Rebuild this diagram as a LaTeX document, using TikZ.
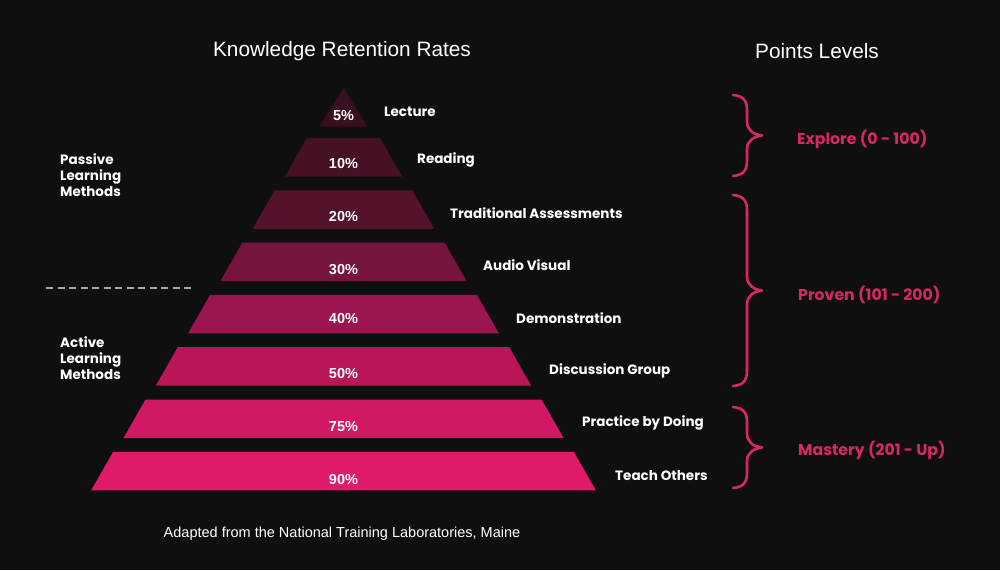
\documentclass[tikz,border=0pt]{standalone}
\usepackage{fontspec}
\setmainfont{Liberation Sans}
\newfontfamily\labfont{Poppins}
\definecolor{bg}{HTML}{0F0F10}
\definecolor{tA}{HTML}{370F1E}
\definecolor{tB}{HTML}{461025}
\definecolor{tC}{HTML}{55122D}
\definecolor{tD}{HTML}{76143E}
\definecolor{tE}{HTML}{9B1650}
\definecolor{tF}{HTML}{B9165A}
\definecolor{tG}{HTML}{D01864}
\definecolor{tH}{HTML}{DE1A69}
\definecolor{pinkc}{HTML}{D72864}
\definecolor{dashc}{HTML}{A8A8A8}
\tikzset{
  pct/.style={text=white,font=\bfseries\fontsize{14.5}{16}\selectfont,inner sep=0pt},
  lab/.style={text=white,font=\labfont\bfseries\fontsize{13.5}{15}\selectfont,anchor=west,inner sep=0pt},
  side/.style={text=white,font=\labfont\bfseries\fontsize{13.5}{16}\selectfont,anchor=north west,align=left,inner sep=0pt},
  lvl/.style={text=pinkc,font=\labfont\bfseries\fontsize{15.7}{17}\selectfont,anchor=west,inner sep=0pt},
  ttl/.style={text=white,font=\fontsize{20.8}{24}\selectfont,inner sep=0pt},
  bracec/.style={draw=pinkc,line width=2.6pt,line cap=round,line join=round}
}
\begin{document}
\begin{tikzpicture}[x=1pt,y=-1pt]
\useasboundingbox (0,0) rectangle (1000,570);
\fill[bg] (0,0) rectangle (1000,570);
% tiers
\def\cx{343.5}
\fill[tA] (\cx,88) -- (\cx+24,126.5) -- (\cx-24,126.5) -- cycle;
\foreach \i/\c in {2/tB,3/tC,4/tD,5/tE,6/tF,7/tG,8/tH}{
  \pgfmathsetmacro{\yt}{138+52.3*(\i-2)}
  \pgfmathsetmacro{\hw}{36.5+32.3*(\i-2)}
  \fill[\c] (\cx-\hw,\yt) -- (\cx+\hw,\yt) -- (\cx+\hw+22,\yt+38.5) -- (\cx-\hw-22,\yt+38.5) -- cycle;
}
% percentages
\node[pct] (p1) at (\cx,116) {5\%};
\node[pct] (p2) at (\cx,164) {10\%};
\node[pct] (p3) at (\cx,217) {20\%};
\node[pct] (p4) at (\cx,269.5) {30\%};
\node[pct] (p5) at (\cx,318.5) {40\%};
\node[pct] (p6) at (\cx,374) {50\%};
\node[pct] (p7) at (\cx,427) {75\%};
\node[pct] (p8) at (\cx,479.5) {90\%};
% labels
\node[lab] (l1) at (384,112) {Lecture};
\node[lab] (l2) at (417,160) {Reading};
\node[lab] (l3) at (450,213) {Traditional Assessments};
\node[lab] (l4) at (483,265.5) {Audio Visual};
\node[lab] (l5) at (516,318) {Demonstration};
\node[lab] (l6) at (549,370.5) {Discussion Group};
\node[lab] (l7) at (582,423) {Practice by Doing};
\node[lab] (l8) at (615,475.5) {Teach Others};
% side texts
\node[side] (pass) at (60,153.5) {Passive\\Learning\\Methods};
\node[side] (act) at (60,336.5) {Active\\Learning\\Methods};
\coordinate (dl) at (46,288);
\coordinate (dr) at (193,288);
\draw[dashc,line width=1.2pt,dash pattern=on 7pt off 4.5pt] (dl) -- (dr);
% titles
\node[ttl] (t1) at (342,51.5) {Knowledge Retention Rates};
\node[ttl] (t2) at (817,51.5) {Points Levels};
\node[text=white,font=\fontsize{14.5}{16}\selectfont,inner sep=0pt] (foot) at (342,533.5) {Adapted from the National Training Laboratories, Maine};
% braces
\foreach \a/\b/\m in {95/176/135.5, 195/386/290.5, 407/488/447.5}{
  \draw[bracec] (733,\a) .. controls (744,\a+1) and (747,\a+6) .. (747,\a+16)
    -- (747,\m-14) .. controls (747,\m-5) and (754,\m-1) .. (762,\m)
    .. controls (754,\m+1) and (747,\m+5) .. (747,\m+14)
    -- (747,\b-16) .. controls (747,\b-6) and (744,\b-1) .. (733,\b);
}
\node[lvl] (e1) at (797,139.5) {Explore (0 - 100)};
\node[lvl] (e2) at (798,295) {Proven (101 - 200)};
\node[lvl] (e3) at (798,450.5) {Mastery (201 - Up)};
\end{tikzpicture}
\end{document}
